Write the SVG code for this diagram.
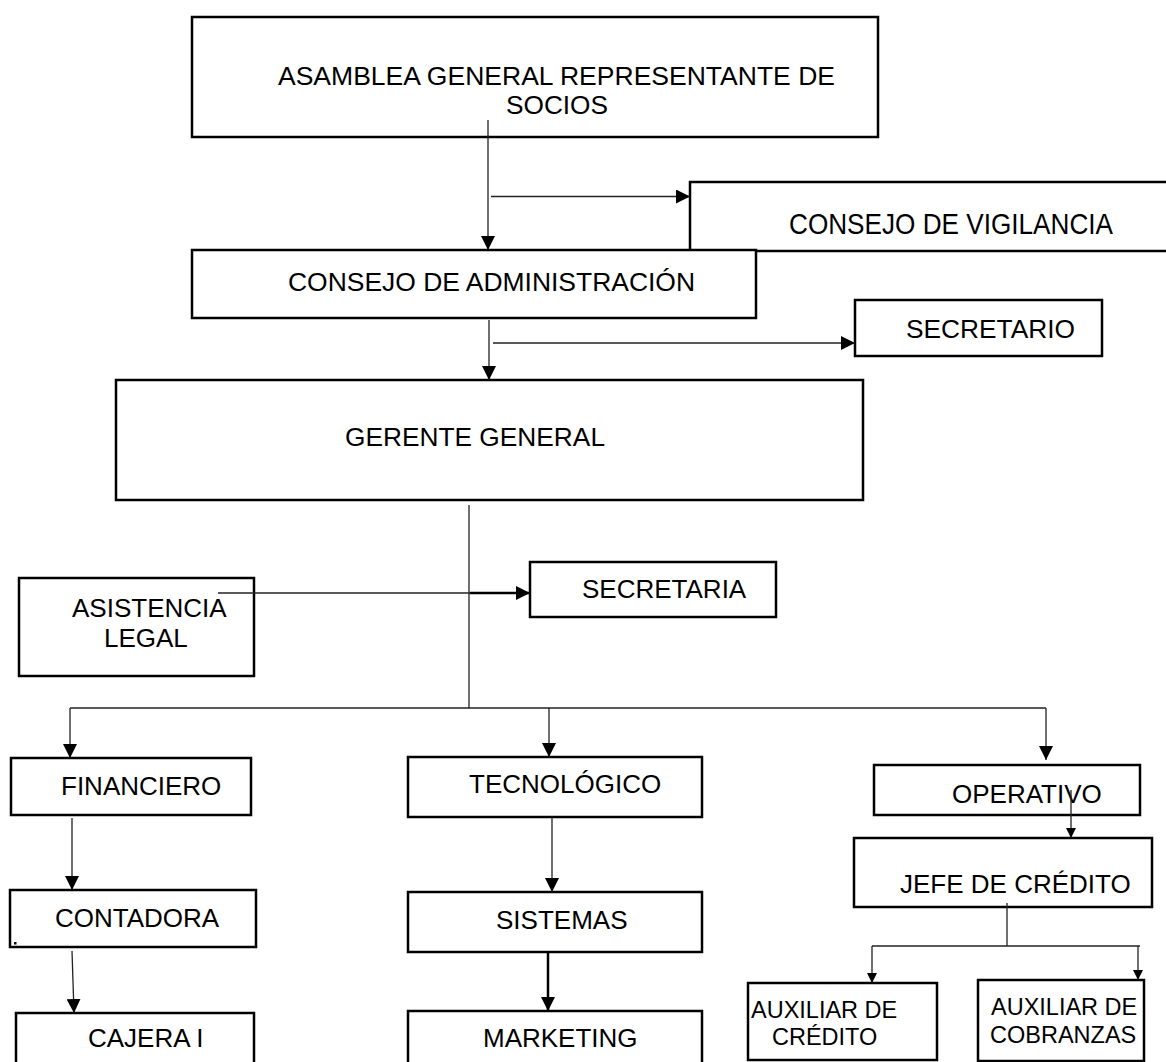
<svg xmlns="http://www.w3.org/2000/svg" width="1166" height="1062" viewBox="0 0 1166 1062">
  <style>
    .box { fill: #ffffff; stroke: #000000; stroke-width: 2.5; }
    .lbl { font-family: "Liberation Sans", Arial, sans-serif; font-size: 26px; fill: #000000; }
    .sm { font-size: 23.5px; }
    .tall { font-size: 30px; }
    .ln { fill: none; stroke: #222222; stroke-width: 1.3; }
    .thick { stroke: #000000; stroke-width: 2.5; }
  </style>
  <defs>
    <marker id="arrow" markerUnits="userSpaceOnUse" markerWidth="14" markerHeight="14" viewBox="0 0 14 14" refX="14" refY="7" orient="auto">
      <path d="M0,0 L14,7 L0,14 Z" fill="#000000"/>
    </marker>
    <marker id="arrowSmall" markerUnits="userSpaceOnUse" markerWidth="10" markerHeight="10" viewBox="0 0 10 10" refX="10" refY="5" orient="auto">
      <path d="M0,0 L10,5 L0,10 Z" fill="#000000"/>
    </marker>
  </defs>

  <rect x="0" y="0" width="1166" height="1062" fill="#ffffff"/>

  <g id="asamblea">
    <rect class="box" x="192" y="17" width="686" height="120"/>
    <text class="lbl" x="278" y="85" textLength="557" lengthAdjust="spacingAndGlyphs">ASAMBLEA GENERAL REPRESENTANTE DE</text>
    <text class="lbl" x="506" y="114" textLength="102" lengthAdjust="spacingAndGlyphs">SOCIOS</text>
  </g>

  <g id="consejo-vigilancia">
    <rect class="box" x="690" y="182" width="490" height="69"/>
    <text class="lbl tall" x="789" y="234" textLength="324" lengthAdjust="spacingAndGlyphs">CONSEJO DE VIGILANCIA</text>
  </g>

  <g id="consejo-administracion">
    <rect class="box" x="192" y="250" width="564" height="68"/>
    <text class="lbl" x="288" y="291" textLength="407" lengthAdjust="spacingAndGlyphs">CONSEJO DE ADMINISTRACIÓN</text>
  </g>

  <g id="secretario">
    <rect class="box" x="855" y="300" width="247" height="56"/>
    <text class="lbl" x="906" y="338" textLength="169" lengthAdjust="spacingAndGlyphs">SECRETARIO</text>
  </g>

  <g id="gerente-general">
    <rect class="box" x="116" y="380" width="747" height="120"/>
    <text class="lbl" x="345" y="446" textLength="260" lengthAdjust="spacingAndGlyphs">GERENTE GENERAL</text>
  </g>

  <g id="asistencia-legal">
    <rect class="box" x="19" y="578" width="235" height="98"/>
    <text class="lbl" x="72" y="617">ASISTENCIA</text>
    <text class="lbl" x="104" y="647">LEGAL</text>
  </g>

  <g id="secretaria">
    <rect class="box" x="530" y="562" width="246" height="55"/>
    <text class="lbl" x="582" y="598">SECRETARIA</text>
  </g>

  <g id="financiero">
    <rect class="box" x="11" y="758" width="240" height="57"/>
    <text class="lbl" x="61" y="795">FINANCIERO</text>
  </g>

  <g id="tecnologico">
    <rect class="box" x="408" y="757" width="294" height="60"/>
    <text class="lbl" x="469" y="793">TECNOLÓGICO</text>
  </g>

  <g id="operativo">
    <rect class="box" x="874" y="765" width="266" height="50"/>
    <text class="lbl" x="952" y="803">OPERATIVO</text>
  </g>

  <g id="jefe-credito">
    <rect class="box" x="854" y="838" width="298" height="69"/>
    <text class="lbl" x="900" y="893">JEFE DE CRÉDITO</text>
  </g>

  <g id="contadora">
    <rect class="box" x="10" y="890" width="246" height="57"/>
    <text class="lbl" x="55" y="927">CONTADORA</text>
    <rect x="14" y="942" width="2.5" height="2.5" fill="#000000"/>
  </g>

  <g id="sistemas">
    <rect class="box" x="408" y="892" width="294" height="60"/>
    <text class="lbl" x="496" y="929">SISTEMAS</text>
  </g>

  <g id="cajera">
    <rect class="box" x="16" y="1013" width="238" height="70"/>
    <text class="lbl" x="88" y="1047">CAJERA I</text>
  </g>

  <g id="marketing">
    <rect class="box" x="408" y="1011" width="294" height="70"/>
    <text class="lbl" x="483" y="1047">MARKETING</text>
  </g>

  <g id="auxiliar-credito">
    <rect class="box" x="748" y="983" width="189" height="77"/>
    <text class="lbl sm" x="751" y="1018">AUXILIAR DE</text>
    <text class="lbl sm" x="772" y="1045">CRÉDITO</text>
  </g>

  <g id="auxiliar-cobranzas">
    <rect class="box" x="978" y="980" width="166" height="81"/>
    <text class="lbl sm" x="991" y="1015">AUXILIAR DE</text>
    <text class="lbl sm" x="990" y="1043">COBRANZAS</text>
  </g>

  <g id="connectors">
    <!-- upper chain -->
    <line class="ln" x1="488" y1="120" x2="488" y2="250" marker-end="url(#arrow)"/>
    <line class="ln" x1="491" y1="196.5" x2="690" y2="196.5" marker-end="url(#arrow)"/>
    <line class="ln" x1="489" y1="320" x2="489" y2="380" marker-end="url(#arrow)"/>
    <line class="ln" x1="493" y1="343" x2="855" y2="343" marker-end="url(#arrow)"/>
    <line class="ln" x1="469" y1="505" x2="469" y2="708"/>
    <!-- advisory link -->
    <line class="ln" x1="218" y1="593" x2="470" y2="593"/>
    <line class="ln thick" x1="470" y1="593" x2="530" y2="593" marker-end="url(#arrow)"/>
    <!-- department bus -->
    <line class="ln" x1="70" y1="708" x2="1046" y2="708"/>
    <line class="ln" x1="70" y1="708" x2="70" y2="758" marker-end="url(#arrow)"/>
    <line class="ln" x1="549" y1="708" x2="549" y2="757" marker-end="url(#arrow)"/>
    <line class="ln" x1="1046" y1="708" x2="1046" y2="760" marker-end="url(#arrow)"/>
    <!-- financiero column -->
    <line class="ln" x1="72" y1="818" x2="72" y2="890" marker-end="url(#arrow)"/>
    <line class="ln" x1="72" y1="951" x2="74" y2="1013" marker-end="url(#arrow)"/>
    <!-- tecnologico column -->
    <line class="ln" x1="552" y1="818" x2="552" y2="892" marker-end="url(#arrow)"/>
    <line class="ln thick" x1="548" y1="953" x2="548" y2="1011" marker-end="url(#arrow)"/>
    <!-- operativo column -->
    <line class="ln" x1="1071" y1="790" x2="1071" y2="838" marker-end="url(#arrowSmall)"/>
    <line class="ln" x1="1007" y1="903" x2="1007" y2="946"/>
    <line class="ln" x1="872" y1="946" x2="1140" y2="946"/>
    <line class="ln" x1="872" y1="946" x2="872" y2="983" marker-end="url(#arrowSmall)"/>
    <line class="ln" x1="1138" y1="946" x2="1138" y2="980" marker-end="url(#arrowSmall)"/>
  </g>
</svg>
